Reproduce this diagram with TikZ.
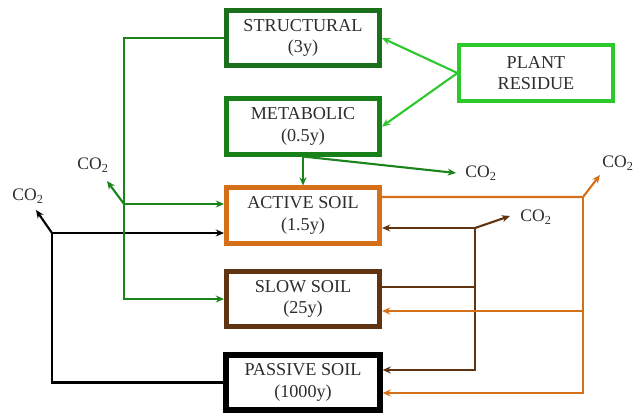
\documentclass[tikz,border=0pt]{standalone}
\usepackage{fontspec}
\setmainfont{Liberation Serif}
\usetikzlibrary{positioning,arrows.meta}
\definecolor{cstruct}{RGB}{28,112,28}
\definecolor{cmetab}{RGB}{24,128,24}
\definecolor{cgreen}{RGB}{26,132,26}
\definecolor{cplant}{RGB}{44,200,44}
\definecolor{corange}{RGB}{214,112,24}
\definecolor{cbrown}{RGB}{96,52,16}
\definecolor{ctext}{RGB}{45,45,45}
\begin{document}
\begin{tikzpicture}[x=0.03cm, y=-0.03cm,
    pool/.style={draw, line width=4pt, minimum width=4.6cm, minimum height=1.66cm,
                 align=center, fill=white, text=ctext, font=\fontsize{15.5}{18.5}\selectfont},
    gas/.style={inner sep=0pt, text=ctext, font=\fontsize{15}{18}\selectfont},
    flow/.style={line width=1.8pt},
    >={Stealth[length=7pt,width=6pt]}
  ]
  \useasboundingbox (0,0) rectangle (642,417);

  % carbon pools
  \node[pool, draw=cstruct] (struct) at (303,38) {STRUCTURAL\\(3y)};
  \node[pool, draw=cmetab] (metab) at (303,126.5) {METABOLIC\\(0.5y)};
  \node[pool, draw=cplant, line width=3.2pt] (plant) at (536,73) {PLANT\\RESIDUE};
  \node[pool, draw=corange] (active) at (303,215.5) {ACTIVE SOIL\\(1.5y)};
  \node[pool, draw=cbrown] (slow) at (303,299) {SLOW SOIL\\(25y)};
  \node[pool, draw=black, line width=5pt] (passive) at (303,382.5) {PASSIVE SOIL\\(1000y)};

  % respiration labels
  \node[gas] (co2g) at (93,165) {CO\textsubscript{2}};
  \node[gas] (co2k) at (28,196) {CO\textsubscript{2}};
  \node[gas] (co2m) at (481,173) {CO\textsubscript{2}};
  \node[gas] (co2b) at (536,217) {CO\textsubscript{2}};
  \node[gas] (co2o) at (618,163) {CO\textsubscript{2}};

  % junctions and arrow ends
  \coordinate (gj) at (124,204);
  \coordinate (gtip) at (107,181);
  \coordinate (mtip) at (456,173);
  \coordinate (kj) at (52,233);
  \coordinate (ktip) at (36,210);
  \coordinate (bj) at (475,228);
  \coordinate (bs) at (475,287);
  \coordinate (bb) at (475,370);
  \coordinate (btip) at (510,216);
  \coordinate (oj) at (583,197);
  \coordinate (om) at (583,311);
  \coordinate (ob) at (583,393);
  \coordinate (otip) at (600,175);

  % plant residue
  \draw[flow, ->, cplant] (plant.west) -- (struct.east);
  \draw[flow, ->, cplant] (plant.west) -- (metab.east);

  % passive soil
  \draw[flow, ->] (passive.west) -| (kj) -- (kj -| active.west);
  \draw[flow, ->] (kj) -- (ktip);

  % structural and metabolic
  \draw[flow, ->, cgreen] (struct.west) -| (gj) |- (slow.west);
  \draw[flow, ->, cgreen] (gj) -- (gj -| active.west);
  \draw[flow, ->, cgreen] (gj) -- (gtip);
  \draw[flow, ->, cgreen] (metab.south) -- (active.north);
  \draw[flow, ->, cgreen] (metab.south) -- (mtip);

  % slow soil
  \draw[flow, cbrown] (slow.east |- bs) -- (bs);
  \draw[flow, ->, cbrown] (bj) -- (bj -| active.east);
  \draw[flow, ->, cbrown] (bj) -- (bb) -- (bb -| passive.east);
  \draw[flow, ->, cbrown] (bj) -- (btip);

  % active soil
  \draw[flow, ->, corange] (active.east |- oj) -- (oj) -- (otip);
  \draw[flow, ->, corange] (oj) -- (ob) -- (ob -| passive.east);
  \draw[flow, ->, corange] (om) -- (om -| slow.east);
\end{tikzpicture}
\end{document}
